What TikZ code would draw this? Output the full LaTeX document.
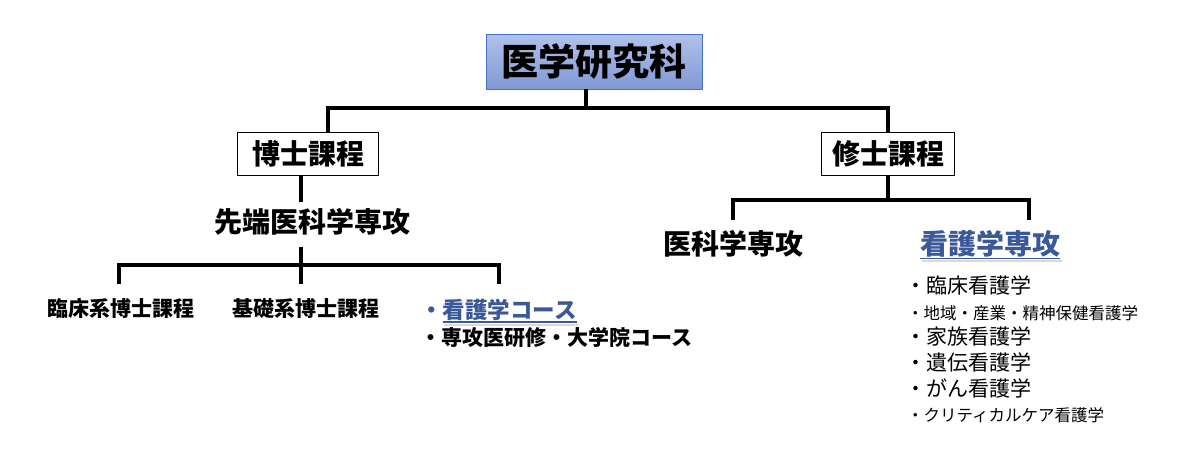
\documentclass[tikz,border=0pt]{standalone}
\usepackage{fontspec}
\setmainfont{Noto Sans CJK JP}
\definecolor{kblue}{RGB}{59,89,152}
\definecolor{edgeblue}{RGB}{68,114,196}
% blue underlined text with a soft shadow line
\newcommand{\kangoul}[1]{{\setbox0\hbox{#1}%
  \rlap{\smash{\kern1.5pt\raisebox{-7.5pt}{\color{black!15}\rule{\wd0}{2.5pt}}}}%
  \rlap{\smash{\raisebox{-4.5pt}{\rule{\wd0}{1.6pt}}}}\box0}}
\begin{document}
\begin{tikzpicture}[x=1pt, y=-1pt,
  conn/.style={line width=3.6pt},
  frame/.style={draw, line width=0.9pt, minimum height=43pt, inner sep=0pt},
  hfont/.style={font=\fontsize{28}{30}\selectfont\bfseries},
  sfont/.style={font=\fontsize{21}{23}\selectfont\bfseries},
  item/.style={anchor=west, inner sep=0pt, font=\fontsize{21}{23}\selectfont},
  smallitem/.style={anchor=west, inner sep=0pt, font=\fontsize{16.5}{18}\selectfont}]

	\useasboundingbox (0,0) rectangle (1200,458);

	% Top box
	\node[draw=edgeblue, line width=0.8pt, top color={rgb,255:red,178;green,193;blue,234},
	  bottom color={rgb,255:red,128;green,152;blue,212}, minimum width=216pt, minimum height=55pt,
	  font=\fontsize{37}{40}\selectfont\bfseries] (ika) at (594,61.5) {医学研究科};

	% Course boxes
	\node[frame, minimum width=141pt, hfont] (hakase) at (308,153.5) {博士課程};
	\node[frame, minimum width=133pt, hfont] (shushi) at (888,153.5) {修士課程};

	% Majors
	\node[hfont] (sentan) at (312,222) {先端医科学専攻};
	\node[hfont] (ikagaku) at (733,244) {医科学専攻};
	\node[hfont, text=kblue] (kangosenko) at (990,244) {\kangoul{看護学専攻}};

	% Doctoral programmes
	\node[sfont] (rinsho) at (121,308) {臨床系博士課程};
	\node[sfont] (kiso) at (306,308) {基礎系博士課程};
	\node[sfont, anchor=west, inner sep=0pt, text=kblue, font=\fontsize{22.5}{24}\selectfont\bfseries]
	  (course) at (420,310) {・\kangoul{看護学コース}};
	\node[sfont, anchor=west, inner sep=0pt] (kenshu) at (420,338) {・専攻医研修・大学院コース};

	% Nursing fields
	\node[item] (f1) at (905,285) {・臨床看護学};
	\node[smallitem] (f2) at (907,313) {・地域・産業・精神保健看護学};
	\node[item] (f3) at (905,336) {・家族看護学};
	\node[item] (f4) at (905,362) {・遺伝看護学};
	\node[item] (f5) at (905,388) {・がん看護学};
	\node[smallitem] (f6) at (907,415) {・クリティカルケア看護学};

	% Junctions
	\coordinate (b1) at (586,108);
	\coordinate (h1) at (328,132);
	\coordinate (h2) at (301,202);
	\coordinate (t2) at (301,247);
	\coordinate (b2) at (301,265);
	\coordinate (l1) at (119,284);
	\coordinate (l2) at (301,284);
	\coordinate (l3) at (499,284);
	\coordinate (b3) at (888,200);
	\coordinate (d1) at (733,220);
	\coordinate (d2) at (1029,220);

	% Connectors
	\draw[conn] (b1 |- ika.south) -- (b1);
	\draw[conn] (h1) |- (b1) -| (shushi.north);
	\draw[conn] (h2 |- hakase.south) -- (h2);
	\draw[conn] (t2) -- (l2);
	\draw[conn] (l1) |- (b2) -| (l3);
	\draw[conn] (shushi.south) -- (b3);
	\draw[conn] (d1) |- (b3) -| (d2);

\end{tikzpicture}
\end{document}
